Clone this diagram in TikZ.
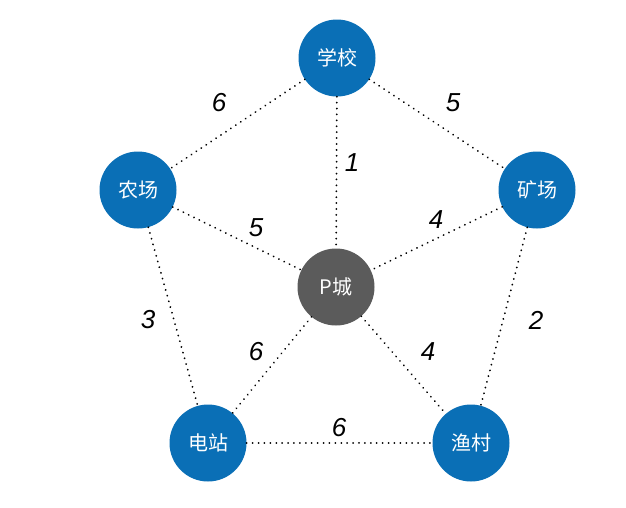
\documentclass[tikz,border=0pt]{standalone}
\usepackage{fontspec}
\setmainfont{Liberation Sans}
\newfontfamily\cjk{Noto Sans CJK SC}
\definecolor{nodeblue}{HTML}{0A6FB6}
\definecolor{nodegray}{HTML}{5B5B5B}
\begin{document}
\begin{tikzpicture}[x=1pt,y=-1pt,
  city/.style={circle,fill=nodeblue,minimum size=77pt,inner sep=0pt,text=white,font=\cjk\fontsize{20}{20}\selectfont},
  hub/.style={city,fill=nodegray},
  road/.style={line width=2pt,dash pattern=on 0.01pt off 5.9pt,line cap=round},
  wt/.style={font=\itshape\fontsize{26}{26}\selectfont,inner sep=0pt}]
\useasboundingbox (0,0) rectangle (626,507);
\node[city] (school) at (337,58) {学校};
\node[city] (farm) at (138,190) {农场};
\node[city] (mine) at (537,190) {矿场};
\node[hub] (p) at (336,287) {P城};
\node[city] (power) at (208,443) {电站};
\node[city] (fish) at (471,443) {渔村};
\draw[road] (school) -- (farm);
\draw[road] (school) -- (mine);
\draw[road] (school) -- (p);
\draw[road] (farm) -- (p);
\draw[road] (mine) -- (p);
\draw[road] (farm) -- (power);
\draw[road] (mine) -- (fish);
\draw[road] (p) -- (power);
\draw[road] (p) -- (fish);
\draw[road] (power) -- (fish);
\node[wt] (w1) at (219,103) {6};
\node[wt] (w2) at (453,103) {5};
\node[wt] (w3) at (352,163) {1};
\node[wt] (w4) at (256,228) {5};
\node[wt] (w5) at (436,220) {4};
\node[wt] (w6) at (148,320) {3};
\node[wt] (w7) at (536,320) {2};
\node[wt] (w8) at (256,352) {6};
\node[wt] (w9) at (428,352) {4};
\node[wt] (w10) at (339,428) {6};
\end{tikzpicture}
\end{document}
